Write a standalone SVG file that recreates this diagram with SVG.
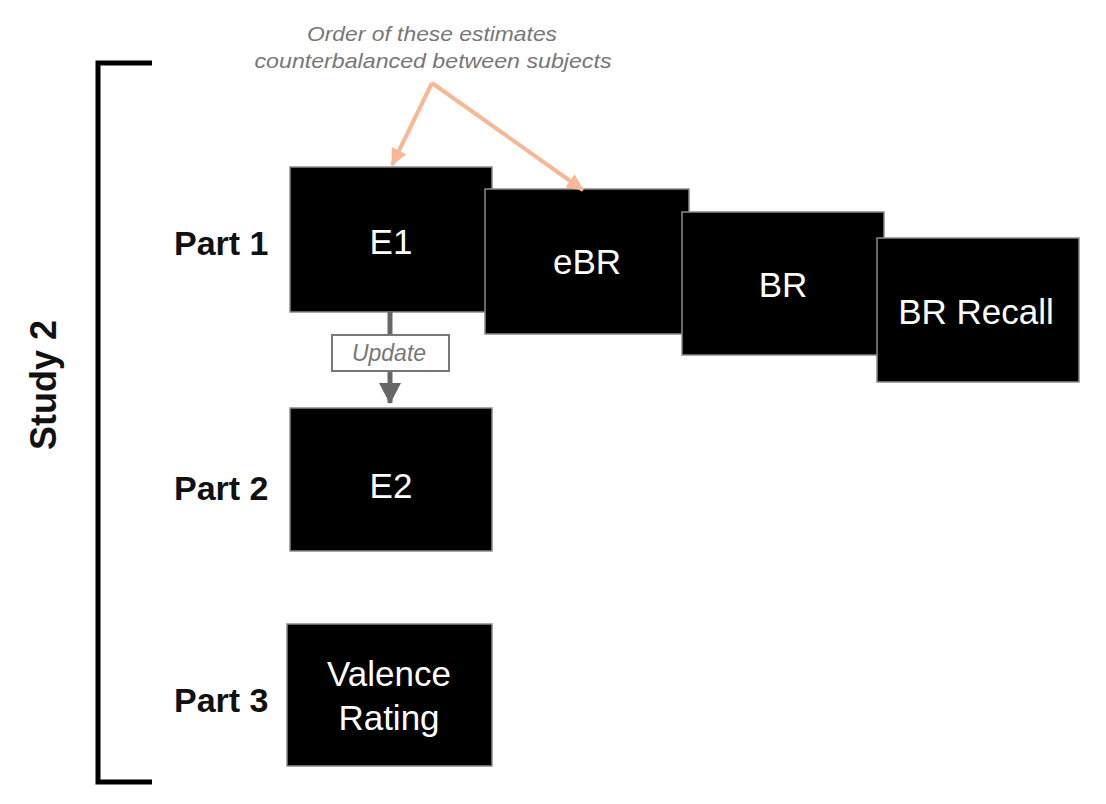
<svg xmlns="http://www.w3.org/2000/svg" width="1106" height="804" viewBox="0 0 1106 804">
<style>
.box{fill:#000;stroke:#8a8a8a;stroke-width:1.5}
.bt{font-family:"Liberation Sans",Arial,sans-serif;font-size:35px;fill:#fff;text-anchor:middle}
.part{font-family:"Liberation Sans",Arial,sans-serif;font-size:34px;font-weight:bold;fill:#111}
.note{font-family:"Liberation Sans",Arial,sans-serif;font-size:21px;font-style:italic;fill:#777;text-anchor:middle}
</style>
<defs>
<marker id="oa" markerUnits="userSpaceOnUse" markerWidth="18" markerHeight="18" refX="16" refY="9" orient="auto"><path d="M0,1 L17,9 L0,17 Z" fill="#f8b895"/></marker>
<marker id="ga" markerUnits="userSpaceOnUse" markerWidth="24" markerHeight="24" refX="20" refY="11" orient="auto"><path d="M0,0 L21,11 L0,22 Z" fill="#666"/></marker>
</defs>
<rect width="1106" height="804" fill="#fff"/>
<g id="bracket"><path d="M152,63 L98,63 L98,782 L152,782" fill="none" stroke="#000" stroke-width="5"/></g>
<g id="study"><text class="part" style="font-size:36px" text-anchor="middle" transform="translate(56,385) rotate(-90)">Study 2</text></g>
<g id="labels">
<text class="part" x="174" y="255">Part 1</text>
<text class="part" x="174" y="500">Part 2</text>
<text class="part" x="174" y="712">Part 3</text>
</g>
<g id="note">
<text class="note" x="432" y="41" textLength="250" lengthAdjust="spacingAndGlyphs">Order of these estimates</text>
<text class="note" x="433" y="68" textLength="357" lengthAdjust="spacingAndGlyphs">counterbalanced between subjects</text>
</g>
<g id="E1"><rect class="box" x="290" y="167" width="202" height="145"/><text class="bt" x="391" y="254">E1</text></g>
<g id="eBR"><rect class="box" x="485" y="189" width="204" height="145"/><text class="bt" x="587" y="274">eBR</text></g>
<g id="BR"><rect class="box" x="682" y="212" width="202" height="143"/><text class="bt" x="783" y="297">BR</text></g>
<g id="BRRecall"><rect class="box" x="877" y="238" width="202" height="144"/><text class="bt" x="976" y="324">BR Recall</text></g>
<g id="E2"><rect class="box" x="290" y="408" width="202" height="143"/><text class="bt" x="391" y="498">E2</text></g>
<g id="Valence"><rect class="box" x="287" y="624" width="205" height="142"/><text class="bt" x="389" y="686">Valence</text><text class="bt" x="389" y="730">Rating</text></g>
<g id="connectors">
<path d="M432,83 L392,165" fill="none" stroke="#f8b895" stroke-width="4" marker-end="url(#oa)"/>
<path d="M432,83 L583,190" fill="none" stroke="#f8b895" stroke-width="4" marker-end="url(#oa)"/>
<path d="M390,312 L390,403" fill="none" stroke="#666" stroke-width="5" marker-end="url(#ga)"/>
<rect x="332" y="335" width="117" height="36" fill="#fff" stroke="#777" stroke-width="2"/>
<text class="note" x="389" y="361" style="font-size:23px">Update</text>
</g>
</svg>
